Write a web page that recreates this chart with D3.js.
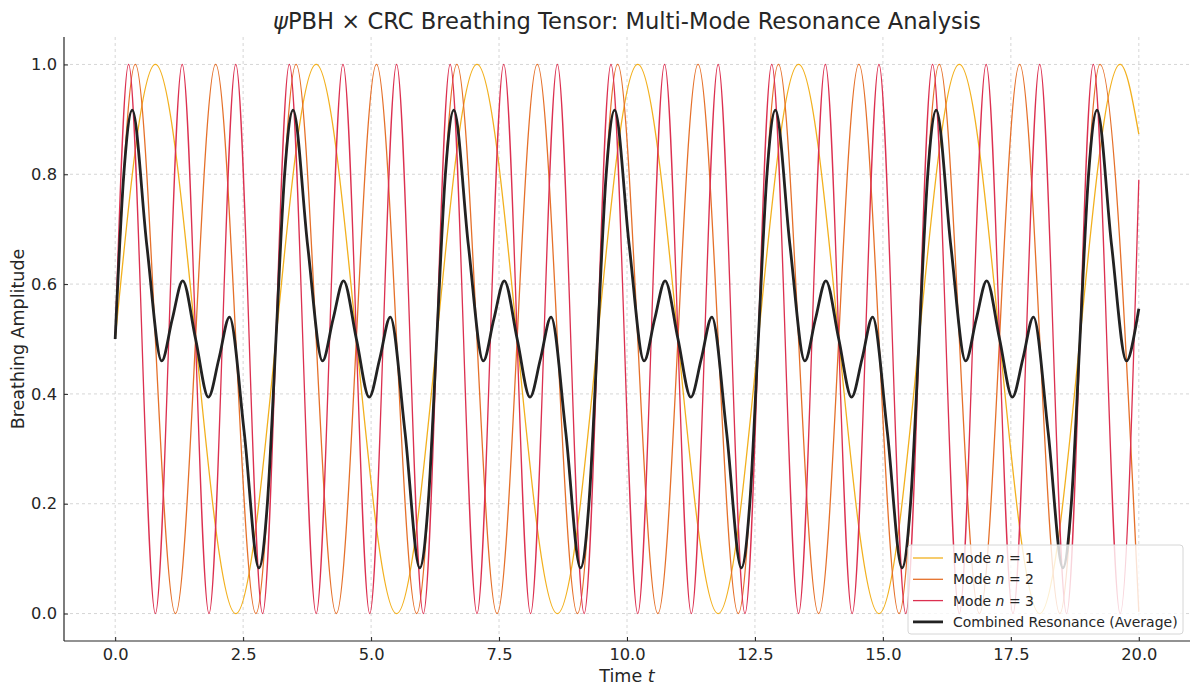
<!DOCTYPE html>
<html>
<head>
<meta charset="utf-8">
<script src="https://cdn.jsdelivr.net/npm/d3@7"></script>
<style>
  body { margin: 0; background: #fff; }
  text { font-family: "DejaVu Sans", sans-serif; fill: #262626; }
</style>
</head>
<body>
<div id="chart"></div>
<script>
// values (peaks, troughs and a few in-between points)
var mode1T = [0, 0.785, 2.356, 3.927, 5.498, 7.069, 8.639, 10.210, 11.781, 13.352, 14.923, 16.493, 18.064, 19.635, 20];
var mode1V = [0.5, 1, 0, 1, 0, 1, 0, 1, 0, 1, 0, 1, 0, 1, 0.873];

var mode2T = [0, 0.393, 1.178, 1.963, 2.749, 3.534, 4.320, 5.105, 5.890, 6.676, 7.461, 8.247, 9.032,
  9.817, 10.603, 11.388, 12.174, 12.959, 13.744, 14.530, 15.315, 16.101, 16.886, 17.671, 18.457, 19.242, 20];
var mode2V = [0.5, 1, 0, 1, 0, 1, 0, 1, 0, 1, 0, 1, 0,
  1, 0, 1, 0, 1, 0, 1, 0, 1, 0, 1, 0, 1, 0.003];

var mode3T = [0, 0.262, 0.785, 1.309, 1.833, 2.356, 2.880, 3.403, 3.927, 4.451, 4.974, 5.498, 6.021,
  6.545, 7.069, 7.592, 8.116, 8.639, 9.163, 9.687, 10.210, 10.734, 11.257, 11.781, 12.305, 12.828,
  13.352, 13.875, 14.399, 14.923, 15.446, 15.970, 16.493, 17.017, 17.541, 18.064, 18.588, 19.111, 19.635, 20];
var mode3V = [0.5, 1, 0, 1, 0, 1, 0, 1, 0, 1, 0, 1, 0,
  1, 0, 1, 0, 1, 0, 1, 0, 1, 0, 1, 0, 1,
  0, 1, 0, 1, 0, 1, 0, 1, 0, 1, 0, 1, 0, 0.790];

var combinedT = [0, 0.167, 0.334, 0.620, 0.909, 1.115, 1.320, 1.571, 1.822, 2.027, 2.233, 2.520, 2.808, 2.975, 3.142,
  3.309, 3.476, 3.762, 4.051, 4.257, 4.462, 4.713, 4.964, 5.169, 5.375, 5.662, 5.950, 6.117, 6.283,
  6.450, 6.617, 6.903, 7.192, 7.398, 7.603, 7.854, 8.105, 8.310, 8.516, 8.803, 9.091, 9.258, 9.425,
  9.592, 9.759, 10.045, 10.334, 10.540, 10.745, 10.996, 11.247, 11.452, 11.658, 11.945, 12.233, 12.400, 12.566,
  12.733, 12.900, 13.186, 13.475, 13.681, 13.886, 14.137, 14.388, 14.593, 14.799, 15.086, 15.374, 15.541, 15.708,
  15.875, 16.042, 16.328, 16.617, 16.823, 17.028, 17.279, 17.530, 17.735, 17.941, 18.228, 18.516, 18.683, 18.850,
  19.017, 19.184, 19.470, 19.759, 19.965, 20];
var combinedV = [0.500, 0.798, 0.917, 0.669, 0.460, 0.536, 0.606, 0.500, 0.394, 0.464, 0.540, 0.331, 0.083, 0.202, 0.500,
  0.798, 0.917, 0.669, 0.460, 0.536, 0.606, 0.500, 0.394, 0.464, 0.540, 0.331, 0.083, 0.202, 0.500,
  0.798, 0.917, 0.669, 0.460, 0.536, 0.606, 0.500, 0.394, 0.464, 0.540, 0.331, 0.083, 0.202, 0.500,
  0.798, 0.917, 0.669, 0.460, 0.536, 0.606, 0.500, 0.394, 0.464, 0.540, 0.331, 0.083, 0.202, 0.500,
  0.798, 0.917, 0.669, 0.460, 0.536, 0.606, 0.500, 0.394, 0.464, 0.540, 0.331, 0.083, 0.202, 0.500,
  0.798, 0.917, 0.669, 0.460, 0.536, 0.606, 0.500, 0.394, 0.464, 0.540, 0.331, 0.083, 0.202, 0.500,
  0.798, 0.917, 0.669, 0.460, 0.536, 0.555];

var xTicks = [0, 2.5, 5, 7.5, 10, 12.5, 15, 17.5, 20];
var yTicks = [0, 0.2, 0.4, 0.6, 0.8, 1.0];

var seriesNames = ["n1", "n2", "n3", "combined"];
var seriesColors = ["#f2b01e", "#e5702a", "#dc3050", "#222222"];

function zipSeries(ts, vs) {
  return ts.map(function(t, i) { return {t: t, v: vs[i]}; });
}
var series = [
  {key: "n1", pts: zipSeries(mode1T, mode1V), width: 1.3},
  {key: "n2", pts: zipSeries(mode2T, mode2V), width: 1.3},
  {key: "n3", pts: zipSeries(mode3T, mode3V), width: 1.3},
  {key: "combined", pts: zipSeries(combinedT, combinedV), width: 2.8}
];

var margin = {top: 37, right: 10, bottom: 55, left: 64},
    width = 1200 - margin.left - margin.right,
    height = 696 - margin.top - margin.bottom;

var root = d3.select("#chart")
  .append("svg")
    .attr("width", 1200)
    .attr("height", 696);

var svg = root.append("g")
    .attr("transform", "translate(" + margin.left + "," + margin.top + ")");

var x = d3.scaleLinear().domain([-1, 21]).range([0, width]);
var y = d3.scaleLinear().domain([-0.05, 1.05]).range([height, 0]);
var color = d3.scaleOrdinal().domain(seriesNames).range(seriesColors);

// grid
svg.append("g").selectAll("line")
  .data(xTicks).enter().append("line")
    .attr("x1", function(d) { return x(d); })
    .attr("x2", function(d) { return x(d); })
    .attr("y1", 0).attr("y2", height)
    .attr("stroke", "#cccccc").attr("stroke-width", 0.8)
    .attr("stroke-dasharray", "3,3");
svg.append("g").selectAll("line")
  .data(yTicks).enter().append("line")
    .attr("x1", 0).attr("x2", width)
    .attr("y1", function(d) { return y(d); })
    .attr("y2", function(d) { return y(d); })
    .attr("stroke", "#cccccc").attr("stroke-width", 0.8)
    .attr("stroke-dasharray", "3,3");

// axes, ticks pointing inward
var xAxis = svg.append("g")
  .attr("transform", "translate(0," + height + ")")
  .call(d3.axisBottom(x).tickValues(xTicks).tickFormat(d3.format(".1f")).tickSizeInner(-4).tickSizeOuter(0).tickPadding(7));
var yAxis = svg.append("g")
  .call(d3.axisLeft(y).tickValues(yTicks).tickFormat(d3.format(".1f")).tickSizeInner(-4).tickSizeOuter(0).tickPadding(7));

[xAxis, yAxis].forEach(function(a) {
  a.select(".domain").attr("stroke", "#262626").attr("stroke-width", 1.2);
  a.selectAll(".tick line").attr("stroke", "#262626").attr("stroke-width", 1);
  a.selectAll(".tick text").style("font-size", "16.3px").style("font-family", "DejaVu Sans").attr("fill", "#262626");
});
xAxis.select(".domain").attr("d", "M0,0H" + width);
yAxis.select(".domain").attr("d", "M0," + height + "V0");

// lines
var line = d3.line()
  .x(function(d) { return x(d.t); })
  .y(function(d) { return y(d.v); })
  .curve(d3.curveMonotoneX);

svg.selectAll(".series")
  .data(series)
  .enter()
  .append("path")
    .attr("class", "series")
    .attr("fill", "none")
    .attr("stroke", function(d) { return color(d.key); })
    .attr("stroke-width", function(d) { return d.width; })
    .attr("stroke-linejoin", "round")
    .attr("d", function(d) { return line(d.pts); });

// title
var title = root.append("text")
  .attr("x", margin.left + width / 2)
  .attr("y", 29)
  .attr("text-anchor", "middle")
  .style("font-size", "22.6px");
title.append("tspan").style("font-style", "italic").text("ψ");
title.append("tspan").text("PBH × CRC Breathing Tensor: Multi-Mode Resonance Analysis");

// axis labels
var xl = root.append("text")
  .attr("x", margin.left + width / 2)
  .attr("y", 682)
  .attr("text-anchor", "middle")
  .style("font-size", "17.5px");
xl.append("tspan").text("Time ");
xl.append("tspan").style("font-style", "italic").text("t");

root.append("text")
  .attr("transform", "translate(24," + (margin.top + height / 2) + ") rotate(-90)")
  .attr("text-anchor", "middle")
  .style("font-size", "17.5px")
  .text("Breathing Amplitude");

// legend
var legendLabels = [["Mode ", "n", " = 1"], ["Mode ", "n", " = 2"], ["Mode ", "n", " = 3"], ["Combined Resonance (Average)", "", ""]];
var lg = svg.append("g").attr("transform", "translate(" + (908 - margin.left) + "," + (545 - margin.top) + ")");
lg.append("rect")
  .attr("width", 275).attr("height", 89)
  .attr("rx", 3)
  .attr("fill", "#ffffff").attr("fill-opacity", 0.8)
  .attr("stroke", "#d6d6d6");
var rows = lg.selectAll(".row")
  .data(seriesNames)
  .enter()
  .append("g")
    .attr("class", "row")
    .attr("transform", function(d, i) { return "translate(0," + (13 + i * 21.3) + ")"; });
rows.append("line")
  .attr("x1", 5).attr("x2", 35)
  .attr("stroke", function(d) { return color(d); })
  .attr("stroke-width", function(d, i) { return series[i].width; });
var lt = rows.append("text")
  .attr("x", 45)
  .attr("dy", "0.35em")
  .style("font-size", "14px");
lt.append("tspan").text(function(d, i) { return legendLabels[i][0]; });
lt.append("tspan").style("font-style", "italic").text(function(d, i) { return legendLabels[i][1]; });
lt.append("tspan").text(function(d, i) { return legendLabels[i][2]; });
</script>
</body>
</html>
